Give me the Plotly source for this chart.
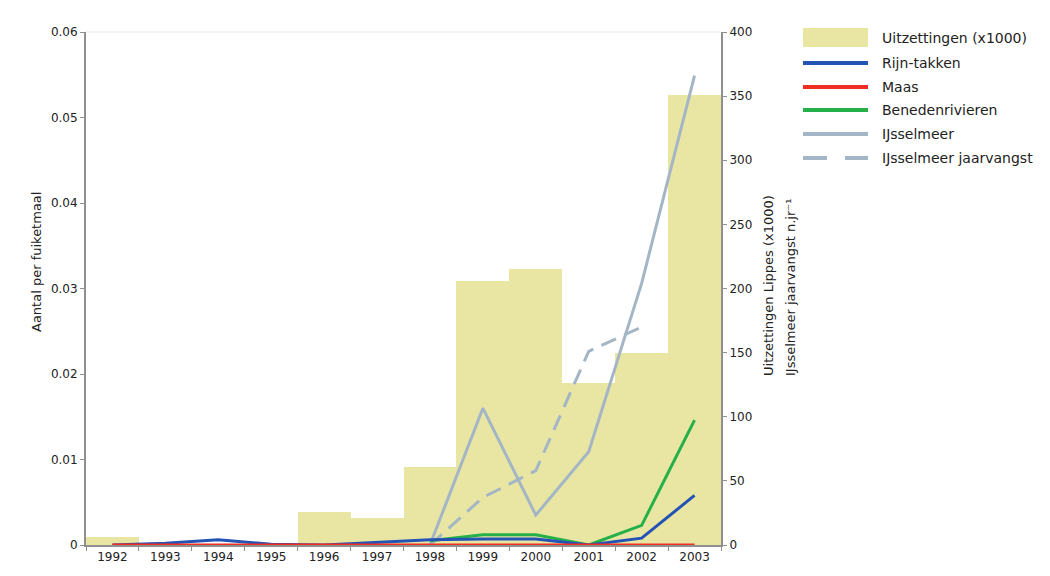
import plotly.graph_objects as go

# ---------------- data ----------------
years = ['1992', '1993', '1994', '1995', '1996', '1997', '1998', '1999', '2000', '2001', '2002', '2003']
uitzettingen = [6, None, None, None, 26, 21, 61, 206, 215, 126, 150, 351]          # x1000 (right axis)
rijn_takken = [0, 0.0002, 0.0006, 0.0001, 0.0, 0.0003, 0.0006, 0.0007, 0.0007, 0.0, 0.0008, 0.0058]
maas = [0, 0, 0, 0, 0, 0, 0, 0, 0, 0, 0, 0]
benedenrivieren = [None, None, None, None, None, None, 0.0005, 0.0012, 0.0012, 0.0, 0.0023, 0.0146]
ijsselmeer = [None, None, None, None, None, None, 0.0, 0.0160, 0.0035, 0.0109, 0.0306, 0.0549]
ijsselmeer_jaarvangst = [None, None, None, None, None, None, 0, 37, 58, 151, 170, None]  # right axis

left_ticks = [0, 0.01, 0.02, 0.03, 0.04, 0.05, 0.06]
left_ticktext = ['0', '0.01', '0.02', '0.03', '0.04', '0.05', '0.06']
right_ticks = [0, 50, 100, 150, 200, 250, 300, 350, 400]

legend_labels = ['Uitzettingen (x1000)', 'Rijn-takken', 'Maas', 'Benedenrivieren',
                 'IJsselmeer', 'IJsselmeer jaarvangst']

# ---------------- style ----------------
FONT = 'DejaVu Sans'
TXT = '#222222'
AX = '#8f8f8f'
C_BAR = '#e9e6a3'
C_BLUE = '#2553b5'
C_RED = '#ee2d24'
C_GREEN = '#25b04a'
C_GRAY = '#a4b6c5'

fig = go.Figure()

fig.add_trace(go.Bar(x=years, y=uitzettingen, name=legend_labels[0], marker_color=C_BAR,
                     marker_line_width=0, yaxis='y', showlegend=False))
fig.add_trace(go.Scatter(x=years, y=ijsselmeer_jaarvangst, name=legend_labels[5], mode='lines',
                         line=dict(color=C_GRAY, width=3, dash='16px,9px'), yaxis='y',
                         showlegend=False))
fig.add_trace(go.Scatter(x=years, y=ijsselmeer, name=legend_labels[4], mode='lines',
                         line=dict(color=C_GRAY, width=3), yaxis='y2', showlegend=False))
fig.add_trace(go.Scatter(x=years, y=benedenrivieren, name=legend_labels[3], mode='lines',
                         line=dict(color=C_GREEN, width=3), yaxis='y2', showlegend=False))
fig.add_trace(go.Scatter(x=years, y=rijn_takken, name=legend_labels[1], mode='lines',
                         line=dict(color=C_BLUE, width=3), yaxis='y2', showlegend=False))
fig.add_trace(go.Scatter(x=years, y=maas, name=legend_labels[2], mode='lines',
                         line=dict(color=C_RED, width=3), yaxis='y2', showlegend=False))

# page body has an 8px margin; the figure is placed at (8, 8)
OFF = 8
W, H = 1050 - 2 * OFF, 576 - 2 * OFF
# plot area in page pixels
PL, PR, PT, PB = 86, 721, 32, 545
L, R, T, B = PL - OFF, W - (PR - OFF), PT - OFF, H - (PB - OFF)
pw = PR - PL
ph = PB - PT


def px(xp):
    return (xp - PL) / pw


def py(yp):
    return (PB - yp) / ph


axis_common = dict(showline=True, linecolor=AX, linewidth=2, ticks='outside', ticklen=4,
                   tickcolor=AX, showgrid=False, zeroline=False,
                   tickfont=dict(family=FONT, size=12, color=TXT))

fig.update_layout(
    width=W, height=H,
    margin=dict(l=L, r=R, t=T, b=B, autoexpand=False),
    paper_bgcolor='white', plot_bgcolor='white',
    bargap=0, showlegend=False,
    xaxis=dict(type='category', range=[-0.5, 11.5], tickson='boundaries', **axis_common),
    yaxis=dict(side='right', range=[0, 400], tickvals=right_ticks, **axis_common),
    yaxis2=dict(overlaying='y', side='left', range=[0, 0.06], tickvals=left_ticks,
                ticktext=left_ticktext, **axis_common),
)

# faint top border
fig.add_shape(type='line', xref='paper', yref='paper', x0=0, x1=1, y0=1, y1=1,
              line=dict(color='#e8e8e8', width=1))

title_font = dict(family=FONT, size=13, color=TXT)
annotations = [
    dict(text='Aantal per fuiketmaal', xref='paper', yref='paper', x=px(36), y=py(262),
         textangle=-90, showarrow=False, font=title_font, xanchor='center', yanchor='middle'),
    dict(text='Uitzettingen Lippes (x1000)', xref='paper', yref='paper', x=px(768), y=py(286),
         textangle=-90, showarrow=False, font=title_font, xanchor='center', yanchor='middle'),
    dict(text='IJsselmeer jaarvangst n.jr⁻¹', xref='paper', yref='paper', x=px(790), y=py(288),
         textangle=-90, showarrow=False, font=title_font, xanchor='center', yanchor='middle'),
]

# custom legend
sx0, sx1 = px(803), px(868)
rows = [38, 63, 87, 110, 134, 158]
fig.add_shape(type='rect', xref='paper', yref='paper', x0=sx0, x1=sx1, y0=py(28), y1=py(47),
              fillcolor=C_BAR, line_width=0)
for yy, col in zip(rows[1:5], [C_BLUE, C_RED, C_GREEN, C_GRAY]):
    fig.add_shape(type='line', xref='paper', yref='paper', x0=sx0, x1=sx1, y0=py(yy), y1=py(yy),
                  line=dict(color=col, width=4))
for a, b in [(803, 827), (845, 868)]:
    fig.add_shape(type='line', xref='paper', yref='paper', x0=px(a), x1=px(b),
                  y0=py(rows[5]), y1=py(rows[5]), line=dict(color=C_GRAY, width=4))
for yy, lab in zip(rows, legend_labels):
    annotations.append(dict(text=lab, xref='paper', yref='paper', x=px(880), y=py(yy),
                            xanchor='left', yanchor='middle', showarrow=False,
                            font=dict(family=FONT, size=14, color=TXT)))

fig.update_layout(annotations=annotations)

fig.write_html('out.html')
